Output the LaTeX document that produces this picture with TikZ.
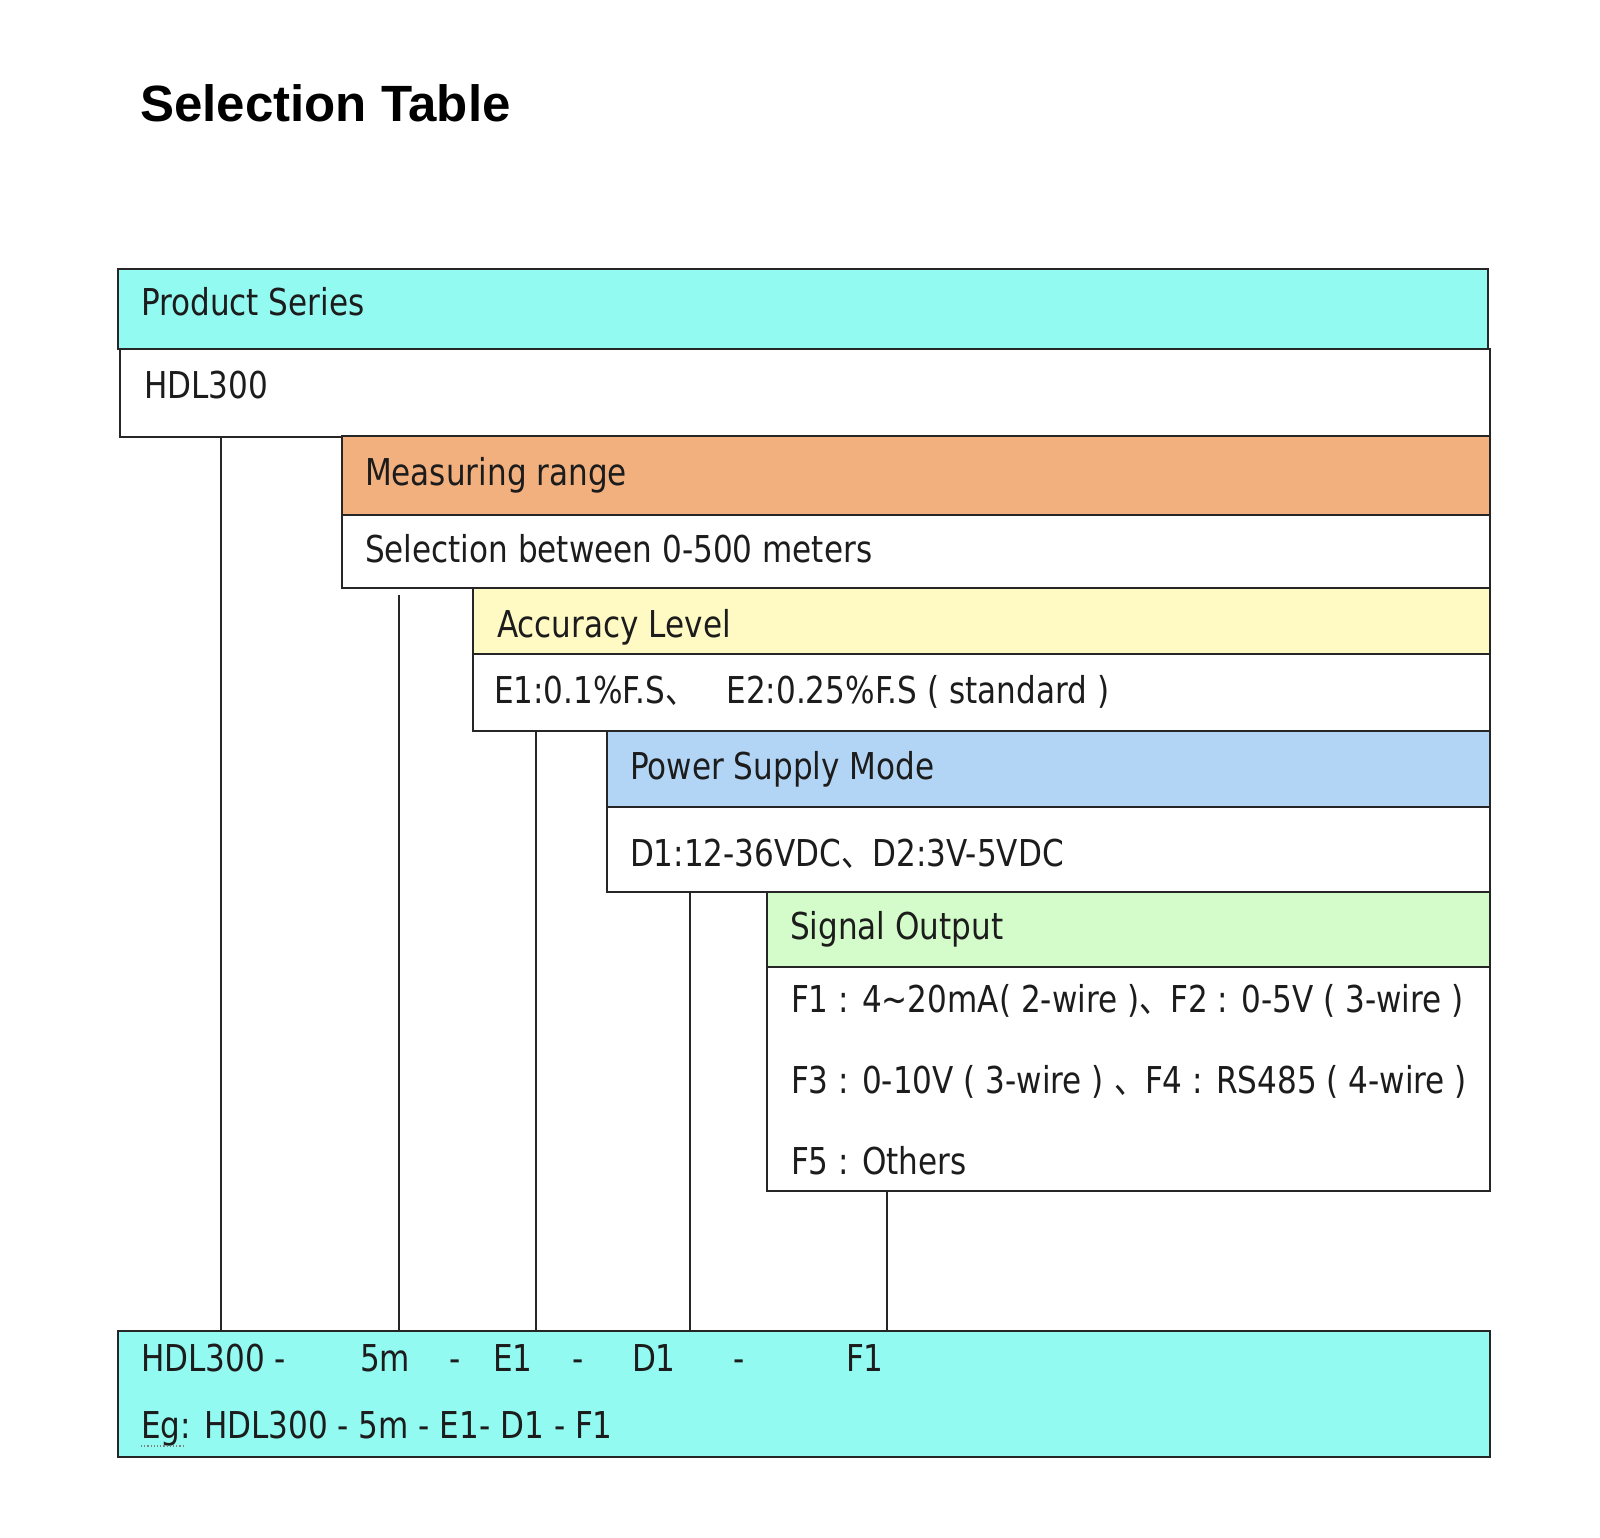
\documentclass[tikz,border=0pt]{standalone}
\usepackage{fontspec}
\setmainfont[FakeStretch=0.84]{DejaVu Sans}
\newfontfamily\titlefont{Liberation Sans}
\newfontfamily\cjk[FakeStretch=0.84]{Noto Sans CJK SC}
\definecolor{cyanc}{HTML}{93FAF2}
\definecolor{orangec}{HTML}{F2B07F}
\definecolor{yellowc}{HTML}{FFFAC4}
\definecolor{bluec}{HTML}{B3D5F5}
\definecolor{greenc}{HTML}{D4FCCA}
\definecolor{linec}{HTML}{262626}
\definecolor{textc}{HTML}{1C1C1C}
\newcommand{\dun}{{\cjk 、}}
\begin{document}
\begin{tikzpicture}[x=1pt,y=-1pt,
  box/.style={draw=linec, line width=2.6pt, inner sep=0pt, outer sep=0pt, anchor=north west},
  txt/.style={inner sep=0pt, outer sep=0pt, anchor=base west, text=textc, font=\fontsize{37}{44}\selectfont},
  conn/.style={draw=linec, line width=2.2pt}]
\useasboundingbox (0,0) rectangle (1600,1538);
% title
\node[inner sep=0pt, anchor=base west, font=\titlefont\bfseries\fontsize{51}{60}\selectfont] (title) at (140,122) {Selection Table};
% boxes
\node[box, fill=cyanc, minimum width=1370pt, minimum height=80pt] (ps) at (118,269) {};
\node[box, fill=white, minimum width=1370pt, minimum height=88pt] (hd) at (120,349) {};
\node[box, fill=orangec, minimum width=1148pt, minimum height=80pt] (mr) at (342,436) {};
\node[box, fill=white, minimum width=1148pt, minimum height=73pt] (mrv) at (342,515) {};
\node[box, fill=yellowc, minimum width=1017pt, minimum height=66pt] (al) at (473,588) {};
\node[box, fill=white, minimum width=1017pt, minimum height=77pt] (alv) at (473,654) {};
\node[box, fill=bluec, minimum width=883pt, minimum height=76pt] (pw) at (607,731) {};
\node[box, fill=white, minimum width=883pt, minimum height=85pt] (pwv) at (607,807) {};
\node[box, fill=greenc, minimum width=723pt, minimum height=75pt] (so) at (767,892) {};
\node[box, fill=white, minimum width=723pt, minimum height=224pt] (sov) at (767,967) {};
\node[box, fill=cyanc, minimum width=1372pt, minimum height=126pt] (bot) at (118,1331) {};
% connector x positions
\coordinate (xa) at (221,0);
\coordinate (xb) at (399,0);
\coordinate (xc) at (536,0);
\coordinate (xd) at (690,0);
\coordinate (xe) at (887,0);
\draw[conn] (hd.south -| xa) -- (bot.north -| xa);
\draw[conn, shorten <=7pt] (mrv.south -| xb) -- (bot.north -| xb);
\draw[conn] (alv.south -| xc) -- (bot.north -| xc);
\draw[conn] (pwv.south -| xd) -- (bot.north -| xd);
\draw[conn] (sov.south -| xe) -- (bot.north -| xe);
% texts
\node[txt] (t1) at (141,315) {Product Series};
\node[txt] (t2) at (144,398) {HDL300};
\node[txt] (t3) at (365,485) {Measuring range};
\node[txt] (t4) at (365,562) {Selection between 0-500 meters};
\node[txt] (t5) at (497,637) {Accuracy Level};
\node[txt] (t6) at (494,703) {E1:0.1\%F.S\dun\hspace{30pt}E2:0.25\%F.S ( standard )};
\node[txt] (t7) at (630,779) {Power Supply Mode};
\node[txt] (t8) at (630,866) {D1:12-36VDC\dun D2:3V-5VDC};
\node[txt] (t9) at (790,939) {Signal Output};
\node[txt] (t10) at (791,1012) {F1 : 4\textasciitilde20mA( 2-wire )\dun F2 : 0-5V ( 3-wire )};
\node[txt] (t11) at (791,1093) {F3 : 0-10V ( 3-wire ) \dun F4 : RS485 ( 4-wire )};
\node[txt] (t12) at (791,1174) {F5 : Others};
% bottom code line
\node[txt] (b1) at (141,1371) {HDL300 -};
\node[txt] (b2) at (360,1371) {5m};
\node[txt] (b3) at (449,1371) {-};
\node[txt] (b4) at (493,1371) {E1};
\node[txt] (b5) at (572,1371) {-};
\node[txt] (b6) at (632,1371) {D1};
\node[txt] (b7) at (733,1371) {-};
\node[txt] (b8) at (846,1371) {F1};
\node[txt] (eg) at (141,1438) {Eg: HDL300 - 5m - E1- D1 - F1};
\draw[gray, line width=1.2pt, dotted] (141,1446) -- (183,1446);
\end{tikzpicture}
\end{document}
